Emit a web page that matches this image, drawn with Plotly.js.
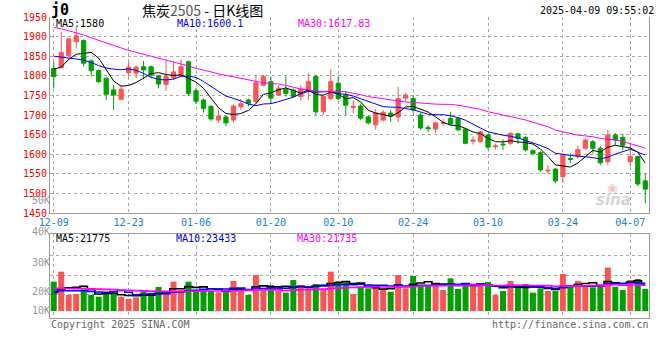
<!DOCTYPE html>
<html><head><meta charset="utf-8">
<script src="https://cdn.plot.ly/plotly-3.0.1.min.js"></script>
<style>html,body{margin:0;padding:0;background:#fff}#chart{width:660px;height:360px}</style>
</head><body><div id="chart"></div>
<script>
const dates = [
 '12-09','12-10','12-11','12-12','12-13','12-16','12-17','12-18','12-19','12-20',
 '12-23','12-24','12-25','12-26','12-27','12-30','12-31','01-02','01-03','01-06',
 '01-07','01-08','01-09','01-10','01-13','01-14','01-15','01-16','01-17','01-20',
 '01-21','01-22','01-23','01-24','01-27','02-05','02-06','02-07','02-10','02-11',
 '02-12','02-13','02-14','02-17','02-18','02-19','02-20','02-21','02-24','02-25',
 '02-26','02-27','02-28','03-03','03-04','03-05','03-06','03-07','03-10','03-11',
 '03-12','03-13','03-14','03-17','03-18','03-19','03-20','03-21','03-24','03-25',
 '03-26','03-27','03-28','03-31','04-01','04-02','04-03','04-07','04-08','04-09'];
const opens = [
 1819,1821,1851,1887,1890,1838,1813,1794,1764,1740,
 1808,1807,1823,1823,1800,1778,1796,1802,1836,1762,
 1738,1722,1687,1695,1687,1721,1738,1734,1776,1785,
 1751,1766,1764,1747,1760,1798,1708,1742,1781,1751,
 1719,1723,1695,1675,1687,1705,1695,1743,1742,1700,
 1668,1664,1679,1691,1691,1664,1633,1632,1649,1619,
 1626,1628,1652,1643,1609,1604,1557,1562,1543,1589,
 1594,1615,1632,1615,1581,1649,1643,1581,1594,1532];
const highs = [
 1836,1912,1896,1924,1893,1842,1816,1795,1776,1776,
 1836,1826,1838,1826,1802,1840,1836,1842,1838,1770,
 1742,1726,1713,1698,1727,1741,1742,1802,1802,1798,
 1776,1799,1768,1776,1806,1802,1751,1817,1798,1760,
 1738,1729,1698,1715,1712,1713,1772,1757,1748,1706,
 1674,1683,1691,1708,1693,1665,1645,1660,1652,1627,
 1638,1656,1654,1646,1613,1608,1572,1565,1601,1602,
 1622,1640,1636,1621,1662,1654,1652,1629,1596,1551];
const lows = [
 1768,1819,1848,1870,1824,1798,1781,1738,1713,1738,
 1798,1794,1791,1793,1768,1762,1789,1796,1749,1728,
 1706,1684,1680,1672,1680,1713,1722,1730,1773,1730,
 1748,1747,1745,1737,1738,1700,1700,1738,1738,1700,
 1705,1687,1676,1662,1684,1682,1682,1734,1705,1662,
 1657,1654,1672,1674,1660,1625,1625,1630,1611,1612,
 1611,1624,1627,1607,1596,1555,1551,1526,1526,1577,
 1589,1612,1602,1572,1572,1624,1611,1568,1518,1475];
const closes = [
 1798,1859,1894,1902,1832,1813,1785,1753,1751,1766,
 1822,1822,1815,1802,1779,1798,1810,1823,1755,1735,
 1717,1690,1697,1680,1723,1729,1730,1782,1798,1743,
 1768,1755,1747,1766,1785,1708,1747,1785,1742,1725,
 1722,1692,1680,1705,1707,1697,1742,1751,1713,1667,
 1665,1680,1681,1677,1662,1628,1636,1657,1618,1621,
 1624,1653,1640,1611,1602,1560,1559,1532,1598,1587,
 1612,1636,1615,1578,1649,1636,1623,1594,1524,1511];
const ma5 = [
 1817,1822,1842,1855,1857,1860,1845.2,1817,1786.8,1773.6,
 1775.4,1782.8,1795.2,1805.4,1808,1803.2,1800.8,1802.4,1793,1784.2,
 1768,1744,1718.8,1703.8,1701.4,1703.8,1711.8,1728.8,1752.4,1756.4,
 1764.2,1769.2,1762.2,1755.8,1764.2,1752.2,1750.6,1758.2,1753.4,1741.4,
 1744.2,1733.2,1712.2,1704.8,1701.2,1696.2,1706.2,1720.4,1722,1714,
 1707.6,1695.2,1681.2,1674,1673,1665.6,1656.8,1652,1640.2,1632,
 1631.2,1634.6,1631.2,1629.8,1626,1613.2,1594.4,1572.8,1570.2,1567.2,
 1577.6,1593,1609.6,1605.6,1618,1622.8,1620.2,1616,1605.2,1577.6];
const ma10 = [
 1850,1848,1846,1843,1840,1834,1826,1820,1817,1815.3,
 1817.7,1814,1806.1,1796.1,1790.8,1789.3,1791.8,1798.8,1799.2,1796.1,
 1785.6,1772.4,1760.6,1748.4,1742.8,1735.9,1727.9,1723.8,1728.1,1728.9,
 1734,1740.5,1745.5,1754.1,1760.3,1758.2,1759.9,1760.2,1754.6,1752.8,
 1748.2,1741.9,1735.2,1729.1,1721.3,1720.2,1719.7,1716.3,1713.4,1707.6,
 1701.9,1700.7,1700.8,1698,1693.5,1686.6,1676,1666.6,1657.1,1652.5,
 1648.4,1645.7,1641.6,1635,1629,1622.2,1614.5,1602,1600,1596.6,
 1595.4,1593.7,1591.2,1587.9,1592.6,1600.2,1606.6,1612.8,1605.4,1597.8];
const ma30 = [
 1923,1920,1915,1910,1904,1897,1890,1884,1877,1871,
 1865,1860,1855,1850,1846,1840,1835,1830,1825,1819,
 1815,1810,1805,1801,1797,1793,1789,1785,1782,1780.1,
 1779.1,1775.6,1770.7,1766.2,1764.6,1761.1,1759.9,1760.9,1760.6,1759.3,
 1755.9,1751.6,1747.1,1743.9,1741.5,1738.1,1735.8,1733.4,1732,1729.8,
 1728,1727.7,1727.2,1727.1,1725,1721.7,1718.5,1714.4,1708.4,1704.3,
 1699.5,1696.1,1692.5,1687.4,1681.3,1676.3,1670.1,1661.6,1656.8,1652.2,
 1648.6,1646.7,1644.5,1640.3,1638.4,1636.3,1632.4,1627.1,1620.8,1615.6];
const volumes = [
 24650,33050,13450,14300,18200,13450,12000,15700,15400,12000,
 10100,11500,17600,15400,20200,15400,24650,17600,24650,16800,
 17600,16800,15700,15700,25200,17600,13450,30250,19050,21850,
 16800,15400,26050,21850,19050,22700,18500,33050,25200,24100,
 14300,20450,19050,20450,17600,16250,30250,19050,29400,22400,
 21850,22400,17600,27450,18500,22700,20450,22700,24400,13450,
 16800,25200,20450,22700,15400,19050,16800,16800,31100,21300,
 25200,21000,19900,21000,36400,20450,17600,26050,26900,18500];
const volMa5 = [
 16000,18500,19500,20000,20730,18490,14280,14730,14950,13710,
 13040,12940,13320,13320,14960,16020,18650,18650,20500,19820,
 20260,18690,18310,16520,18200,18200,17530,20440,21110,20440,
 20280,20670,19830,20390,19830,21010,21630,23030,23700,24710,
 23030,23420,20620,19670,18370,18760,20720,20720,22510,23470,
 24590,23020,22730,22340,21560,21730,21340,22360,21750,20740,
 19560,20510,20060,19720,20110,20560,18880,18150,19830,21010,
 22240,23080,23700,21680,24700,23750,23070,24300,25480,21900];
const volMa10 = [
 15500,17000,17000,17000,17000,16500,16000,15800,16200,17220,
 15770,13610,14030,14140,14340,14530,15800,15990,16910,17390,
 18140,18670,18480,18510,19010,19230,18110,19380,18820,19320,
 19240,19100,20140,20750,20140,20650,21150,21430,22050,22270,
 22020,22530,21830,21690,21540,20900,22070,20670,21090,20920,
 21680,21870,21730,22430,22520,23160,22180,22550,22050,21150,
 20650,20930,21210,20740,20430,20060,19700,19110,19780,20560,
 21400,20980,20930,20760,22860,23000,23080,24000,23580,23300];
const volMa30 = [
 19100,19000,18900,18800,18700,18600,18400,18200,18000,17700,
 17400,17100,16900,16700,16600,16500,16500,16500,16600,16600,
 16700,16800,16800,16900,17000,17200,17300,17600,17800,17980,
 17720,17130,17550,17800,17830,18140,18350,18930,19260,19660,
 19800,20100,20150,20320,20230,20260,20440,20490,20650,20840,
 20980,21170,21230,21620,21400,21570,21800,21550,21730,21450,
 21450,21770,21590,21620,21490,21370,21320,20770,20970,20880,
 21240,21260,21290,21310,21930,22070,21650,21880,21800,21670];
const tickDates = ['12-09','12-23','01-06','01-20','02-10','02-24','03-10','03-24','04-07'];
const volTickText = ['10K','20K','30K','40K','50K'];
const priceLabels = ['MA5:1580','MA10:1600.1','MA30:1617.83'];
const volLabels = ['MA5:21775','MA10:23433','MA30:21735'];
const titleText = '焦炭<span style="color:#555">2505</span> - 日K线图';
const symbolText = 'j0';
const timeText = '2025-04-09 09:55:02';

// ---- styling / layout ----
const W = 660, H = 360;
const px = v => v / W, py = v => 1 - v / H;
const RED = '#fa5555', GREEN = '#00a000';
const MONO = 'DejaVu Sans Mono, Liberation Mono, monospace';
const GRID = '#a8a8a8', BORDER = '#999';
const idx = dates.map((d, i) => i);
const tickPos = tickDates.map(d => dates.indexOf(d));
const volColors = closes.map((c, i) => c >= opens[i] ? RED : GREEN);
const xRange = [-0.5, dates.length - 0.5];

const traces = [
 {type:'candlestick', x:idx, open:opens, high:highs, low:lows, close:closes,
  xaxis:'x', yaxis:'y', whiskerwidth:0, hoverinfo:'skip',
  increasing:{line:{color:RED,width:1}, fillcolor:RED},
  decreasing:{line:{color:GREEN,width:1}, fillcolor:GREEN}},
 {type:'scatter', mode:'lines', x:idx, y:ma5, xaxis:'x', yaxis:'y', line:{color:'#000',width:1}, hoverinfo:'skip'},
 {type:'scatter', mode:'lines', x:idx, y:ma10, xaxis:'x', yaxis:'y', line:{color:'#0000ff',width:1}, hoverinfo:'skip'},
 {type:'scatter', mode:'lines', x:idx, y:ma30, xaxis:'x', yaxis:'y', line:{color:'#ff00ff',width:1}, hoverinfo:'skip'},
 {type:'bar', x:idx, y:volumes, xaxis:'x2', yaxis:'y2', marker:{color:volColors, line:{width:0}}, hoverinfo:'skip'},
 {type:'scatter', mode:'lines', x:idx, y:volMa5, xaxis:'x2', yaxis:'y2', line:{color:'#000',width:1.6,shape:'hvh'}, hoverinfo:'skip'},
 {type:'scatter', mode:'lines', x:idx, y:volMa10, xaxis:'x2', yaxis:'y2', line:{color:'#0000ff',width:1.6,shape:'hvh'}, hoverinfo:'skip'},
 {type:'scatter', mode:'lines', x:idx, y:volMa30, xaxis:'x2', yaxis:'y2', line:{color:'#ff00ff',width:1.6,shape:'hvh'}, hoverinfo:'skip'},
 {type:'scatter', mode:'markers', x:[null], y:[null], xaxis:'x3', yaxis:'y3', hoverinfo:'skip'}
];

const xDom = [px(50), px(649)];
const gridCommon = {showgrid:true, gridcolor:GRID, gridwidth:1, griddash:'dot', zeroline:false, ticks:'', fixedrange:true};

const ann = (text, x, y, color, size, xanchor, extra) => Object.assign({
  text, x:px(x), y:py(y), xref:'paper', yref:'paper', xanchor:xanchor||'left', yanchor:'middle',
  showarrow:false, borderpad:0, font:{family:MONO, size:size||10, color:color||'#000'}}, extra||{});

const layout = {
  width:W, height:H, margin:{l:0,r:0,t:0,b:0}, paper_bgcolor:'#fff', plot_bgcolor:'rgba(0,0,0,0)',
  showlegend:false, boxgap:0.2, bargap:0.2, font:{family:MONO, size:10},
  xaxis:Object.assign({}, gridCommon, {type:'linear', domain:xDom, anchor:'y', range:xRange,
    rangeslider:{visible:false}, tickmode:'array', tickvals:tickPos, ticktext:tickDates, tickangle:0,
    showline:true, linecolor:BORDER, linewidth:1, mirror:false,
    tickfont:{family:MONO, size:10, color:'#1a7fd4'}}),
  yaxis:Object.assign({}, gridCommon, {domain:[py(213), py(17)], anchor:'x', range:[1450,1950], tick0:1450, dtick:50,
    showline:true, linecolor:BORDER, linewidth:1, mirror:true,
    tickfont:{family:MONO, size:10, color:'#ff0000'}}),
  xaxis2:Object.assign({}, gridCommon, {type:'linear', domain:xDom, anchor:'y2', range:xRange,
    tickmode:'array', tickvals:tickPos, showticklabels:false, showline:true, linecolor:BORDER, linewidth:1, mirror:true}),
  yaxis2:Object.assign({}, gridCommon, {domain:[py(318), py(234)], anchor:'x2', range:[-5880, 64700],
    tickmode:'array', tickvals:[13450, 30250, 47050], showticklabels:false, showline:true, linecolor:BORDER, linewidth:1, mirror:true}),
  xaxis3:{domain:xDom, anchor:'y3', visible:false, range:[0,1], fixedrange:true},
  yaxis3:{domain:[py(318), py(195)], anchor:'free', position:px(50), side:'left', range:[0,123],
    tickmode:'array', tickvals:[8,27,56,87,118], ticktext:volTickText, showgrid:false, zeroline:false, showline:false, ticks:'',
    tickfont:{family:MONO, size:10, color:'#999'}, fixedrange:true},
  annotations:[
    ann('<b>'+symbolText+'</b>', 50, 10, '#000', 15),
    ann(titleText, 141, 10, '#000', 14, 'left', {font:{family:'Noto Sans CJK SC, sans-serif', size:14, color:'#000'}}),
    ann(timeText, 655, 10, '#000', 10, 'right'),
    ann(priceLabels[0], 55, 23, '#000'),
    ann(priceLabels[1], 176, 23, '#0000ff'),
    ann(priceLabels[2], 297, 23, '#ff00ff'),
    ann(volLabels[0], 55, 238, '#000'),
    ann(volLabels[1], 175, 238, '#0000ff'),
    ann(volLabels[2], 296, 238, '#ff00ff'),
    ann('Copyright 2025 SINA.COM', 50, 324, '#666'),
    ann('http://finance.sina.com.cn', 650, 324, '#666', 10, 'right'),
    ann('<b><i>sina</i></b>', 613, 200, '#d6d6d6', 15, 'center', {font:{family:'DejaVu Sans, sans-serif', size:15, color:'#d4d4d4'}}),
    ann('◉', 612, 188, '#f2c4c4', 12, 'center', {font:{family:'DejaVu Sans, sans-serif', size:12, color:'#f2c4c4'}})
  ]
};

Plotly.newPlot('chart', traces, layout, {staticPlot:true, displayModeBar:false});
</script></body></html>
